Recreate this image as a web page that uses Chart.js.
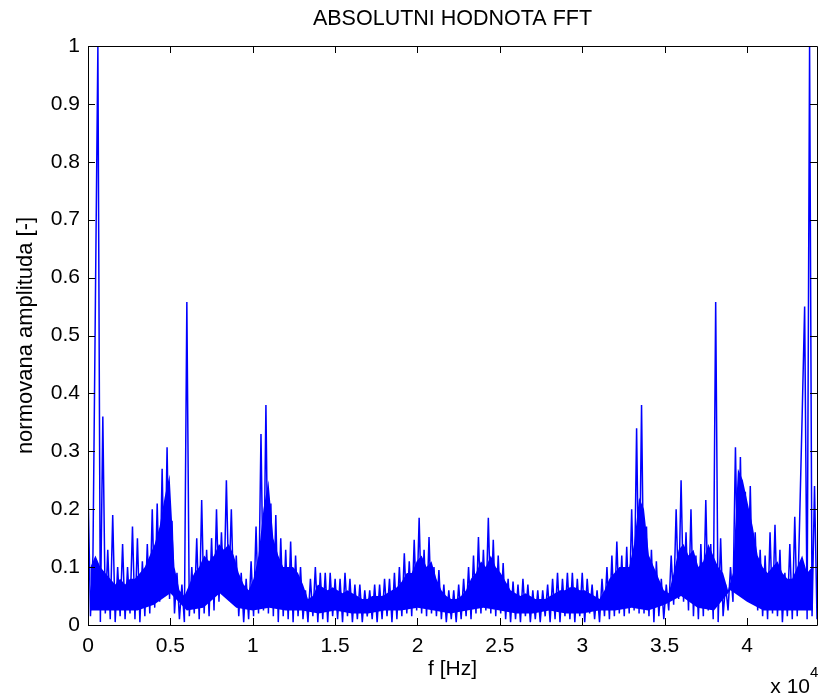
<!DOCTYPE html>
<html>
<head>
<meta charset="utf-8">
<script src="https://cdn.jsdelivr.net/npm/chart.js@4.4.1/dist/chart.umd.min.js"></script>
<style>
  html, body { margin: 0; padding: 0; background: #fff; }
  canvas { display: block; }
</style>
</head>
<body>
<canvas id="grafFFT" width="820" height="696"></canvas>
<script>
// frekvencni osa: 0 .. ~44.25 kHz, biny po 300 Hz, spodni mez jadra po 1000 Hz
const xMax = 44250;
const binStep = 300;
const coreStep = 1000;

const xTicks = [0, 5000, 10000, 15000, 20000, 25000, 30000, 35000, 40000];
const yTicks = [0, 0.1, 0.2, 0.3, 0.4, 0.5, 0.6, 0.7, 0.8, 0.9, 1];

// horni hodnoty (spicky) v binech k*300 Hz
const peaks = [
  0.24, 0.12, 1.0, 0.36, 0.13, 0.19, 0.10, 0.14, 0.10, 0.17,
  0.15, 0.11, 0.14, 0.20, 0.21, 0.27, 0.307, 0.18, 0.09, 0.07,
  0.558, 0.10, 0.15, 0.216, 0.13, 0.15, 0.20, 0.16, 0.25, 0.20,
  0.12, 0.09, 0.08, 0.11, 0.17, 0.33, 0.38, 0.21, 0.19, 0.15,
  0.13, 0.144, 0.12, 0.10, 0.06, 0.08, 0.10, 0.09, 0.09, 0.09,
  0.08, 0.08, 0.09, 0.08, 0.07, 0.07, 0.06, 0.06, 0.07, 0.07,
  0.08, 0.08, 0.09, 0.10, 0.124, 0.11, 0.147, 0.185, 0.13, 0.152,
  0.10, 0.095, 0.07, 0.06, 0.06, 0.07, 0.08, 0.10, 0.12, 0.152,
  0.13, 0.185, 0.147, 0.12, 0.107, 0.08, 0.075, 0.07, 0.08, 0.07,
  0.06, 0.06, 0.06, 0.07, 0.08, 0.09, 0.08, 0.09, 0.09, 0.08,
  0.09, 0.08, 0.07, 0.06, 0.08, 0.10, 0.12, 0.144, 0.12, 0.135,
  0.20, 0.34, 0.38, 0.17, 0.13, 0.11, 0.08, 0.07, 0.12, 0.20,
  0.25, 0.16, 0.20, 0.12, 0.14, 0.216, 0.14, 0.558, 0.15, 0.07,
  0.10, 0.307, 0.29, 0.23, 0.24, 0.16, 0.13, 0.12, 0.16, 0.173,
  0.13, 0.09, 0.14, 0.187, 0.185, 0.55, 1.0, 0.24
];

// dolni hodnoty mezi spickami, v binech k*300 + 150 Hz
const troughs = [
  0.015, 0.56, 0.005, 0.02, 0.01, 0.005, 0.015, 0.01, 0.02, 0.01,
  0.005, 0.015, 0.02, 0.03, 0.04, 0.05, 0.045, 0.02, 0.01, 0.005,
  0.015, 0.02, 0.01, 0.02, 0.015, 0.025, 0.04, 0.05, 0.06, 0.035,
  0.015, 0.005, 0.01, 0.015, 0.02, 0.025, 0.02, 0.015, 0.005, 0.015,
  0.01, 0.005, 0.015, 0.01, 0.005, 0.015, 0.005, 0.01, 0.005, 0.015,
  0.01, 0.005, 0.015, 0.005, 0.01, 0.005, 0.015, 0.01, 0.005, 0.01,
  0.015, 0.005, 0.01, 0.015, 0.02, 0.015, 0.025, 0.02, 0.015, 0.02,
  0.015, 0.01, 0.005, 0.01, 0.005, 0.01, 0.015, 0.01, 0.02, 0.02,
  0.025, 0.02, 0.015, 0.02, 0.01, 0.005, 0.01, 0.005, 0.015, 0.005,
  0.01, 0.005, 0.015, 0.005, 0.01, 0.005, 0.015, 0.01, 0.005, 0.015,
  0.005, 0.02, 0.01, 0.005, 0.015, 0.01, 0.015, 0.02, 0.015, 0.02,
  0.025, 0.02, 0.02, 0.015, 0.005, 0.015, 0.01, 0.025, 0.035, 0.045,
  0.04, 0.025, 0.015, 0.01, 0.015, 0.025, 0.01, 0.005, 0.015, 0.025,
  0.04, 0.055, 0.06, 0.055, 0.04, 0.025, 0.015, 0.01, 0.02, 0.015,
  0.005, 0.015, 0.01, 0.015, 0.363, 0.01, 0.015, 0.01
];

// horni mez plne vybarveneho jadra (dno mezer mezi spickami), biny k*300 + 150 Hz
const coreTop = [
  0.10, 0.12, 0.10, 0.09, 0.08, 0.07, 0.08, 0.07, 0.08, 0.08,
  0.09, 0.10, 0.12, 0.14, 0.17, 0.22, 0.26, 0.10, 0.06, 0.05,
  0.07, 0.09, 0.10, 0.12, 0.11, 0.12, 0.14, 0.13, 0.14, 0.12,
  0.09, 0.07, 0.06, 0.08, 0.12, 0.20, 0.25, 0.15, 0.12, 0.10,
  0.10, 0.10, 0.09, 0.07, 0.045, 0.05, 0.07, 0.065, 0.06, 0.065,
  0.06, 0.055, 0.06, 0.055, 0.05, 0.045, 0.045, 0.05, 0.05, 0.05,
  0.055, 0.06, 0.065, 0.075, 0.09, 0.09, 0.11, 0.12, 0.10, 0.11,
  0.08, 0.06, 0.05, 0.045, 0.045, 0.05, 0.06, 0.08, 0.09, 0.11,
  0.10, 0.12, 0.10, 0.09, 0.075, 0.06, 0.055, 0.05, 0.055, 0.05,
  0.045, 0.045, 0.045, 0.05, 0.055, 0.06, 0.06, 0.065, 0.065, 0.06,
  0.06, 0.055, 0.05, 0.045, 0.06, 0.08, 0.09, 0.10, 0.10, 0.10,
  0.14, 0.22, 0.20, 0.12, 0.10, 0.08, 0.06, 0.055, 0.09, 0.13,
  0.14, 0.12, 0.13, 0.10, 0.11, 0.14, 0.12, 0.10, 0.09, 0.06,
  0.09, 0.27, 0.25, 0.21, 0.17, 0.12, 0.10, 0.09, 0.10, 0.11,
  0.09, 0.08, 0.08, 0.10, 0.12, 0.09, 0.10, 0.10
];

// spodni mez plneho jadra, po 1000 Hz
const coreBottom = [
  0.025, 0.025, 0.025, 0.025, 0.035, 0.055, 0.025, 0.03, 0.055, 0.03,
  0.025, 0.03, 0.025, 0.025, 0.02, 0.025, 0.02, 0.02, 0.025, 0.025,
  0.03, 0.025, 0.02, 0.025, 0.03, 0.025, 0.02, 0.02, 0.025, 0.02,
  0.02, 0.025, 0.025, 0.03, 0.025, 0.035, 0.05, 0.03, 0.025, 0.06,
  0.04, 0.025, 0.025, 0.025, 0.025
];

const spectrum = [];
const coreTopPts = [];
peaks.forEach((p, k) => {
    spectrum.push({ x: k * binStep, y: p });
    spectrum.push({ x: k * binStep + binStep / 2, y: troughs[k] });
    coreTopPts.push({ x: k * binStep + binStep / 2, y: coreTop[k] });
});
const coreBottomPts = coreBottom.map((v, i) => ({ x: i * coreStep, y: v }));

const modra = '#0000ff';
const pismo = { family: '"Liberation Sans", Arial, sans-serif', size: 21 };

// ramecek kolem grafu, ticky dovnitr, nadpis a exponent osy x
const ramecek = {
    id: 'ramecek',
    afterDraw(chart) {
        const { ctx, chartArea: a, scales } = chart;
        const tl = 7;
        ctx.save();
        ctx.strokeStyle = '#000';
        ctx.lineWidth = 1;
        ctx.beginPath();
        ctx.rect(Math.round(a.left) + 0.5, Math.round(a.top) + 0.5,
            Math.round(a.right - a.left), Math.round(a.bottom - a.top));
        scales.x.ticks.forEach(t => {
            const px = Math.round(scales.x.getPixelForValue(t.value)) + 0.5;
            ctx.moveTo(px, a.bottom); ctx.lineTo(px, a.bottom - tl);
            ctx.moveTo(px, a.top); ctx.lineTo(px, a.top + tl);
        });
        scales.y.ticks.forEach(t => {
            const py = Math.round(scales.y.getPixelForValue(t.value)) + 0.5;
            ctx.moveTo(a.left, py); ctx.lineTo(a.left + tl, py);
            ctx.moveTo(a.right, py); ctx.lineTo(a.right - tl, py);
        });
        ctx.stroke();

        ctx.fillStyle = '#000';
        ctx.font = '21.5px "Liberation Sans", Arial, sans-serif';
        ctx.textAlign = 'center';
        ctx.textBaseline = 'middle';
        ctx.fillText('ABSOLUTNI HODNOTA FFT', (a.left + a.right) / 2, 19);

        ctx.font = '21px "Liberation Sans", Arial, sans-serif';
        ctx.textAlign = 'right';
        ctx.fillText('x 10', 810, 687);
        ctx.font = '15px "Liberation Sans", Arial, sans-serif';
        ctx.textAlign = 'left';
        ctx.fillText('4', 810, 673);
        ctx.restore();
    }
};

new Chart(document.getElementById('grafFFT'), {
    type: 'line',
    data: {
        datasets: [
            { data: coreBottomPts, borderColor: 'transparent', backgroundColor: 'transparent', pointRadius: 0, fill: false },
            { data: coreTopPts, borderColor: 'transparent', backgroundColor: modra, pointRadius: 0, fill: '-1' },
            { data: spectrum, borderColor: modra, borderWidth: 1.5, pointRadius: 0, fill: false, borderJoinStyle: 'bevel', tension: 0 }
        ]
    },
    options: {
        responsive: false,
        animation: false,
        layout: { padding: { top: 46, right: 3, left: 0, bottom: 0 } },
        plugins: { legend: { display: false }, tooltip: { enabled: false }, title: { display: false } },
        scales: {
            x: {
                type: 'linear', min: 0, max: xMax,
                afterFit: s => { s.height = 71; },
                afterBuildTicks: s => { s.ticks = xTicks.map(v => ({ value: v })); },
                grid: { display: false, drawTicks: false },
                border: { display: false },
                ticks: {
                    padding: 9, maxRotation: 0, autoSkip: false,
                    font: pismo, color: '#000',
                    callback: v => String(v / 10000)
                },
                title: { display: true, text: 'f [Hz]', font: pismo, color: '#000', padding: { top: 0, bottom: 14 } }
            },
            y: {
                min: 0, max: 1,
                afterFit: s => { s.width = 88; },
                afterBuildTicks: s => { s.ticks = yTicks.map(v => ({ value: v })); },
                grid: { display: false, drawTicks: false },
                border: { display: false },
                ticks: {
                    padding: 8, font: pismo, color: '#000',
                    callback: v => String(v)
                },
                title: { display: true, text: 'normovana amplituda [-]', font: { family: pismo.family, size: 22 }, color: '#000', padding: { top: 13, bottom: 0 } }
            }
        }
    },
    plugins: [ramecek]
});
</script>
</body>
</html>
